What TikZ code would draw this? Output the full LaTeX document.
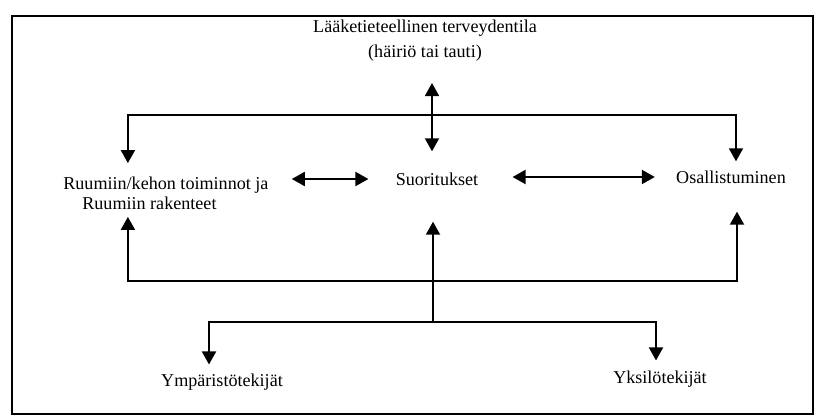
\documentclass[tikz,border=0pt]{standalone}
\usepackage{fontspec}
\setmainfont{Liberation Serif}
\usetikzlibrary{arrows.meta}

\begin{document}
\begin{tikzpicture} [
    x=0.02cm, y=-0.02cm,
    lbl/.style   = { inner sep=0pt, font=\fontsize{10.3}{11.6}\selectfont },
    line/.style  = { draw, line width=1.1pt, -{Triangle[length=0.26cm,width=0.28cm]} },
    dline/.style = { line, {Triangle[length=0.26cm,width=0.28cm]}-{Triangle[length=0.26cm,width=0.28cm]} },
    frame/.style = { draw, line width=0.6pt },
  ]
\useasboundingbox (0,0) rectangle (819,416);
\draw[frame] (12,16) rectangle (813,414);

\node (health) [lbl,align=center,font=\fontsize{10.3}{14.2}\selectfont] at (425,41)
  {Lääketieteellinen terveydentila\\(häiriö tai tauti)};
\node (body) [lbl,align=left,anchor=west] at (63,193)
  {Ruumiin/kehon toiminnot ja\\\hspace*{0.38cm}Ruumiin rakenteet};
\node (act) [lbl] at (437,179) {Suoritukset};
\node (part) [lbl] at (731,177) {Osallistuminen};
\node (env) [lbl] at (222,382) {Ympäristötekijät};
\node (pers) [lbl] at (660,379) {Yksilötekijät};

\coordinate (topj) at (432,115);
\coordinate (botj) at (433,281);
\coordinate (ctx) at (433,322);

\begin{scope}[every path/.style=line]
\path[dline,shorten <=0.42cm,shorten >=0.42cm] (health.south -| topj) -- (act.north -| topj);
\path[shorten >=0.26cm] (topj) -| ([xshift=-0.76cm]body.north);
\path[shorten >=0.18cm] (topj) -| ([xshift=0.1cm]part.north);
\path[dline,shorten <=0.46cm,shorten >=0.54cm] (body.east |- act.west) -- (act.west);
\path[dline,shorten <=0.68cm,shorten >=0.42cm] (act.east |- part.west) -- (part.west);
\path[shorten >=0.14cm] (botj) -| ([xshift=-0.76cm]body.south);
\path[shorten >=0.56cm] (botj) -| ([xshift=0.12cm]part.south);
\path[shorten >=0.72cm] (ctx) -- (act.south -| ctx);
\path[shorten >=0.18cm] (ctx) -| ([xshift=-0.26cm]env.north);
\path[shorten >=0.2cm] (ctx) -| ([xshift=-0.08cm]pers.north);
\end{scope}

\end{tikzpicture}
\end{document}
